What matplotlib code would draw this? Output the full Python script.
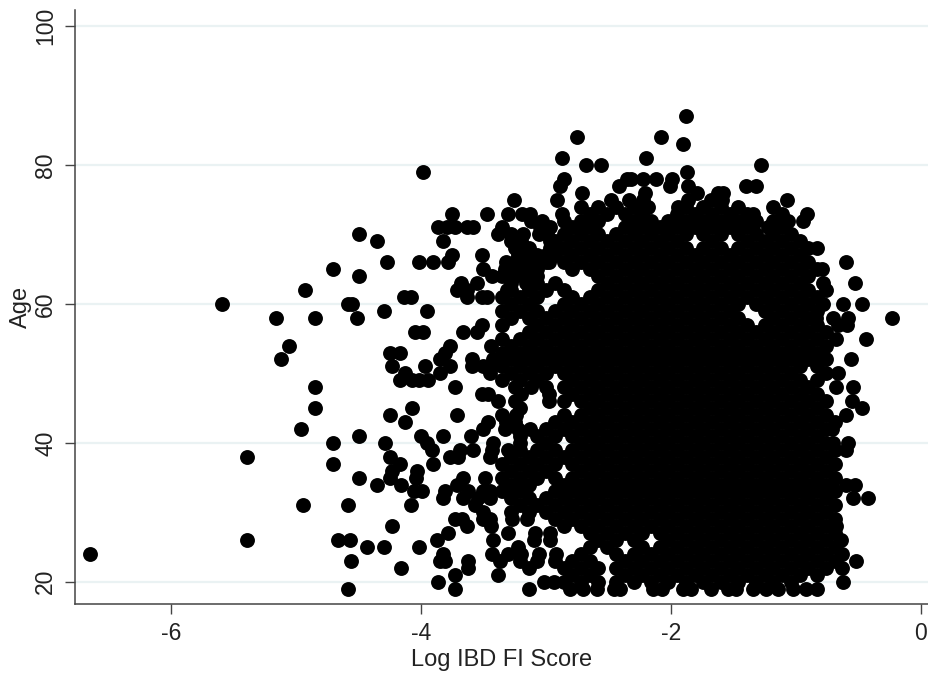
import matplotlib
matplotlib.use("Agg")
import matplotlib.pyplot as plt

age_87 = [-1.88]
age_84 = [-2.75, -2.08]
age_83 = [-1.90]
age_81 = [-2.87, -2.20]
age_80 = [-2.68, -2.56, -1.28]
age_79 = [-3.98, -1.87]
age_78 = [-2.86, -2.35, -2.32, -2.22, -2.12, -1.99]
age_77 = [-2.89, -2.42, -2.01, -1.86, -1.40, -1.32]
age_76 = [-2.71, -2.21, -1.79, -1.62, -1.58]
age_75 = [-3.26, -2.91, -2.48, -2.34, -2.22, -1.86, -1.68, -1.59, -1.07]
age_74 = [-2.72, -2.58, -2.44, -2.30, -2.18, -1.94, -1.88, -1.74, -1.60, -1.46, -1.18]
age_73 = [-3.75, -3.47, -3.30, -3.19, -3.13, -2.87, -2.65, -2.51, -2.37, -2.23, -1.95, -1.81, -1.67, -1.53, -1.39, -1.34, -1.11, -0.91]
age_72 = [-3.12, -3.03, -2.86, -2.72, -2.58, -2.30, -2.16, -2.02, -1.88, -1.74, -1.60, -1.46, -1.32, -1.18, -1.06, -0.94]
age_71 = [-3.86, -3.79, -3.73, -3.63, -3.58, -3.35, -3.05, -2.97, -2.79, -2.65, -2.37, -2.23, -2.09, -1.95, -1.81, -1.67, -1.53, -1.39, -1.22, -1.11]
age_70 = [-4.50, -3.38, -3.28, -3.18, -3.06, -2.99, -2.86, -2.72, -2.58, -2.44, -2.30, -2.16, -2.02, -1.88, -1.74, -1.60, -1.46, -1.32, -1.18, -1.04]
age_69 = [-4.35, -3.82, -3.28, -3.20, -2.97, -2.93, -2.79, -2.65, -2.51, -2.37, -2.23, -2.09, -1.95, -1.67, -1.39, -1.25, -1.11, -0.97]
age_68 = [-3.25, -3.20, -3.14, -2.97, -2.86, -2.72, -2.58, -2.44, -2.30, -2.16, -2.02, -1.88, -1.74, -1.60, -1.46, -1.32, -1.18, -1.04, -0.90, -0.83]
age_67 = [-3.75, -3.51, -3.22, -3.14, -3.07, -3.00, -2.93, -2.79, -2.65, -2.51, -2.37, -2.23, -2.09, -1.95, -1.81, -1.67, -1.53, -1.39, -1.25, -1.11, -0.97]
age_66 = [-4.27, -4.02, -3.90, -3.78, -3.32, -3.25, -3.18, -3.10, -3.00, -2.98, -2.86, -2.72, -2.58, -2.44, -2.30, -2.16, -2.02, -1.88, -1.74, -1.60, -1.46, -1.32, -1.18, -1.04, -0.90, -0.60]
age_65 = [-4.70, -3.50, -3.33, -3.25, -3.17, -3.10, -3.07, -2.79, -2.65, -2.51, -2.37, -2.23, -2.09, -1.95, -1.81, -1.67, -1.53, -1.39, -1.25, -1.11, -0.97, -0.83, -0.79]
age_64 = [-4.50, -3.43, -3.35, -3.25, -3.17, -3.07, -2.58, -2.44, -2.30, -2.16, -2.02, -1.88, -1.74, -1.60, -1.46, -1.32, -1.18, -1.04, -0.90]
age_63 = [-3.68, -3.55, -3.28, -3.16, -3.07, -2.93, -2.51, -2.37, -2.23, -2.09, -1.95, -1.81, -1.67, -1.53, -1.39, -1.25, -1.11, -0.97, -0.78, -0.53]
age_62 = [-4.93, -3.71, -3.63, -3.31, -3.28, -3.14, -3.00, -2.86, -2.58, -2.44, -2.30, -2.16, -2.02, -1.88, -1.74, -1.60, -1.46, -1.32, -1.18, -1.04, -0.90, -0.76]
age_61 = [-4.14, -4.08, -3.63, -3.51, -3.47, -3.35, -3.21, -3.07, -2.79, -2.65, -2.51, -2.37, -2.23, -2.09, -1.95, -1.81, -1.67, -1.53, -1.39, -1.25, -1.11, -0.97, -0.83]
age_60 = [-5.59, -4.58, -4.55, -3.28, -3.14, -2.86, -2.72, -2.58, -2.44, -2.30, -2.16, -2.02, -1.88, -1.74, -1.60, -1.46, -1.32, -1.18, -1.04, -0.90, -0.78, -0.62, -0.47]
age_59 = [-4.30, -3.95, -3.35, -3.21, -3.07, -2.93, -2.79, -2.65, -2.51, -2.37, -2.23, -2.09, -1.95, -1.81, -1.67, -1.53, -1.25, -1.11, -0.97, -0.83]
age_58 = [-5.16, -4.85, -4.51, -3.28, -3.14, -3.00, -2.86, -2.72, -2.58, -2.44, -2.30, -2.16, -2.02, -1.88, -1.74, -1.60, -1.46, -1.18, -1.04, -0.90, -0.84, -0.70, -0.58, -0.23]
age_57 = [-3.51, -3.35, -3.07, -2.93, -2.79, -2.65, -2.51, -2.37, -2.23, -2.09, -1.95, -1.81, -1.67, -1.53, -1.39, -1.25, -1.11, -0.97, -0.83, -0.66, -0.59]
age_56 = [-4.05, -3.98, -3.66, -3.55, -3.14, -3.00, -2.86, -2.72, -2.58, -2.44, -2.30, -2.16, -2.02, -1.88, -1.74, -1.60, -1.46, -1.32, -1.18, -1.04, -0.90, -0.76]
age_55 = [-3.35, -3.21, -3.07, -2.93, -2.79, -2.65, -2.51, -2.37, -2.23, -2.09, -1.95, -1.81, -1.67, -1.53, -1.39, -1.25, -1.11, -0.97, -0.83, -0.68, -0.44]
age_54 = [-5.06, -3.77, -3.44, -3.28, -3.14, -3.00, -2.86, -2.72, -2.58, -2.44, -2.30, -2.16, -2.02, -1.88, -1.74, -1.60, -1.46, -1.32, -1.18, -1.04, -0.90, -0.76]
age_53 = [-4.25, -4.17, -3.81, -3.35, -3.21, -3.07, -2.93, -2.79, -2.65, -2.51, -2.37, -2.23, -2.09, -1.95, -1.81, -1.67, -1.53, -1.39, -1.25, -1.11, -0.97, -0.83]
age_52 = [-5.12, -3.85, -3.59, -3.42, -3.28, -3.14, -3.00, -2.86, -2.72, -2.58, -2.44, -2.30, -2.16, -2.02, -1.88, -1.74, -1.60, -1.46, -1.32, -1.18, -1.04, -0.90, -0.76, -0.56]
age_51 = [-4.23, -3.97, -3.77, -3.59, -3.50, -3.43, -3.35, -3.21, -3.07, -2.93, -2.79, -2.65, -2.51, -2.37, -2.23, -2.09, -1.95, -1.81, -1.67, -1.53, -1.39, -1.25, -1.11, -0.97, -0.83]
age_50 = [-4.13, -3.85, -3.45, -3.28, -3.14, -3.00, -2.86, -2.72, -2.58, -2.44, -2.30, -2.16, -2.02, -1.88, -1.74, -1.60, -1.46, -1.32, -1.18, -1.04, -0.76, -0.66]
age_49 = [-4.17, -4.07, -4.02, -3.94, -3.35, -3.21, -3.07, -2.79, -2.65, -2.51, -2.37, -2.23, -2.09, -1.95, -1.81, -1.67, -1.53, -1.39, -1.25, -1.11, -0.97, -0.83]
age_48 = [-4.85, -3.73, -3.25, -3.12, -3.00, -2.86, -2.72, -2.58, -2.44, -2.30, -2.16, -2.02, -1.88, -1.74, -1.60, -1.46, -1.32, -1.18, -1.04, -0.90, -0.68, -0.54]
age_47 = [-3.51, -3.46, -3.20, -2.98, -2.79, -2.65, -2.51, -2.37, -2.23, -2.09, -1.95, -1.81, -1.67, -1.53, -1.39, -1.25, -1.11, -0.97, -0.83]
age_46 = [-3.38, -3.25, -2.98, -2.86, -2.72, -2.58, -2.44, -2.30, -2.16, -2.02, -1.88, -1.74, -1.60, -1.46, -1.32, -1.18, -1.04, -0.90, -0.76, -0.55]
age_45 = [-4.85, -4.07, -3.21, -2.65, -2.51, -2.37, -2.23, -2.09, -1.95, -1.81, -1.67, -1.53, -1.39, -1.25, -1.11, -0.97, -0.83, -0.47]
age_44 = [-4.25, -3.71, -3.35, -3.24, -2.86, -2.72, -2.58, -2.44, -2.30, -2.16, -2.02, -1.88, -1.74, -1.60, -1.46, -1.32, -1.18, -1.04, -0.90, -0.76, -0.60]
age_43 = [-4.13, -3.46, -3.32, -3.25, -2.93, -2.79, -2.65, -2.51, -2.37, -2.23, -2.09, -1.95, -1.81, -1.67, -1.53, -1.39, -1.25, -1.11, -0.97, -0.83, -0.69]
age_42 = [-4.96, -3.50, -3.33, -3.22, -3.13, -3.00, -2.86, -2.72, -2.58, -2.44, -2.30, -2.16, -2.02, -1.88, -1.74, -1.60, -1.46, -1.32, -1.18, -1.04, -0.90, -0.76, -0.71]
age_41 = [-4.50, -4.00, -3.82, -3.60, -3.21, -3.07, -2.93, -2.79, -2.65, -2.51, -2.37, -2.23, -2.09, -1.95, -1.81, -1.67, -1.53, -1.39, -1.25, -1.11, -0.97, -0.83]
age_40 = [-4.70, -4.29, -3.95, -3.42, -3.21, -3.00, -2.72, -2.58, -2.44, -2.30, -2.16, -2.02, -1.88, -1.74, -1.60, -1.46, -1.32, -1.18, -1.04, -0.90, -0.76, -0.70, -0.58]
age_39 = [-3.91, -3.69, -3.58, -3.43, -3.30, -3.21, -3.07, -2.93, -2.79, -2.65, -2.51, -2.37, -2.23, -2.09, -1.95, -1.81, -1.67, -1.53, -1.39, -1.25, -1.11, -0.97, -0.83, -0.69, -0.60]
age_38 = [-5.39, -4.25, -3.77, -3.70, -3.45, -3.28, -3.14, -3.00, -2.86, -2.72, -2.58, -2.44, -2.30, -2.16, -2.02, -1.88, -1.74, -1.60, -1.46, -1.32, -1.18, -1.04, -0.90, -0.76]
age_37 = [-4.70, -4.17, -3.90, -3.35, -3.21, -3.07, -2.93, -2.79, -2.65, -2.51, -2.37, -2.23, -2.09, -1.95, -1.81, -1.67, -1.53, -1.39, -1.25, -1.11, -0.97, -0.83, -0.69]
age_36 = [-4.23, -4.03, -3.28, -3.14, -3.00, -2.72, -2.58, -2.44, -2.30, -2.16, -2.02, -1.88, -1.74, -1.60, -1.46, -1.32, -1.18, -1.04, -0.90, -0.76]
age_35 = [-4.50, -4.25, -4.04, -3.66, -3.49, -3.35, -3.21, -3.07, -2.93, -2.79, -2.65, -2.51, -2.37, -2.23, -2.09, -1.95, -1.81, -1.67, -1.53, -1.39, -1.25, -1.11, -0.97, -0.83, -0.69]
age_34 = [-4.35, -4.16, -3.71, -3.28, -3.14, -2.86, -2.72, -2.58, -2.44, -2.30, -2.16, -2.02, -1.88, -1.74, -1.60, -1.46, -1.32, -1.18, -1.04, -0.90, -0.76, -0.60, -0.53]
age_33 = [-4.06, -3.99, -3.81, -3.62, -3.50, -3.45, -3.35, -3.21, -2.93, -2.79, -2.65, -2.51, -2.37, -2.23, -2.09, -1.95, -1.81, -1.67, -1.53, -1.39, -1.25, -1.11, -0.97, -0.83, -0.69]
age_32 = [-3.82, -3.66, -3.54, -3.45, -3.28, -3.14, -3.00, -2.86, -2.72, -2.58, -2.44, -2.30, -2.16, -2.02, -1.88, -1.74, -1.60, -1.46, -1.32, -1.18, -1.04, -0.90, -0.76, -0.54, -0.42]
age_31 = [-4.94, -4.58, -4.08, -3.57, -3.21, -3.07, -2.93, -2.79, -2.65, -2.51, -2.37, -2.23, -2.09, -1.95, -1.81, -1.67, -1.53, -1.39, -1.25, -1.11, -0.97, -0.83, -0.69]
age_30 = [-3.50, -3.28, -3.14, -3.00, -2.86, -2.72, -2.58, -2.44, -2.30, -2.16, -2.02, -1.88, -1.74, -1.60, -1.46, -1.32, -1.18, -1.04, -0.90, -0.76]
age_29 = [-3.73, -3.67, -3.50, -3.45, -3.27, -3.15, -2.93, -2.79, -2.65, -2.51, -2.37, -2.23, -2.09, -1.95, -1.81, -1.67, -1.53, -1.39, -1.25, -1.11, -0.97, -0.83, -0.69]
age_28 = [-4.23, -3.63, -3.44, -2.86, -2.72, -2.58, -2.44, -2.30, -2.16, -2.02, -1.88, -1.74, -1.60, -1.46, -1.32, -1.18, -1.04, -0.90, -0.76, -0.68]
age_27 = [-3.78, -3.30, -3.09, -2.97, -2.65, -2.51, -2.37, -2.23, -2.09, -1.95, -1.81, -1.67, -1.53, -1.39, -1.25, -1.11, -0.97, -0.83, -0.69]
age_26 = [-5.39, -4.66, -4.57, -3.87, -3.42, -3.10, -2.97, -2.58, -2.44, -2.30, -2.02, -1.88, -1.74, -1.60, -1.46, -1.32, -1.18, -1.04, -0.90, -0.76, -0.64]
age_25 = [-4.43, -4.30, -4.02, -3.22, -2.65, -2.51, -2.23, -2.09, -1.95, -1.81, -1.67, -1.53, -1.39, -1.25, -1.11, -0.97, -0.83, -0.69]
age_24 = [-6.65, -3.82, -3.43, -3.30, -3.20, -3.06, -2.92, -2.72, -2.44, -2.30, -2.16, -2.02, -1.88, -1.74, -1.60, -1.46, -1.32, -1.18, -1.04, -0.90, -0.76, -0.63]
age_23 = [-4.56, -3.85, -3.81, -3.62, -3.37, -3.21, -3.07, -2.93, -2.79, -2.65, -2.37, -2.23, -2.09, -1.95, -1.81, -1.67, -1.53, -1.39, -1.25, -1.11, -0.97, -0.83, -0.69, -0.52]
age_22 = [-4.16, -3.62, -3.14, -2.86, -2.72, -2.58, -2.44, -2.30, -2.16, -2.02, -1.88, -1.74, -1.60, -1.46, -1.32, -1.18, -1.04, -0.90, -0.76, -0.63]
age_21 = [-3.73, -3.38, -2.79, -2.65, -2.37, -2.23, -2.09, -1.95, -1.81, -1.67, -1.53, -1.39, -1.25, -1.11, -0.97, -0.83]
age_20 = [-3.86, -3.02, -2.94, -2.86, -2.72, -2.58, -2.44, -2.30, -2.16, -2.02, -1.88, -1.74, -1.60, -1.46, -1.32, -1.18, -1.04, -0.62]
age_19 = [-4.58, -3.73, -3.14, -2.81, -2.70, -2.59, -2.46, -2.41, -2.14, -2.07, -1.90, -1.84, -1.68, -1.54, -1.48, -1.34, -1.24, -1.14, -1.02, -0.92, -0.83]

rows = {int(name[4:]): vals for name, vals in list(globals().items()) if name.startswith("age_")}
x_ticks = [-6, -4, -2, 0]
y_ticks = [20, 40, 60, 80, 100]
x_label = "Log IBD FI Score"
y_label = "Age"

plt.rcParams["font.family"] = ["Liberation Sans", "DejaVu Sans"]
fig = plt.figure(figsize=(9.29, 6.74), dpi=100)
ax = fig.add_axes([75 / 929, 70 / 674, 854 / 929, 594 / 674])
ax.set_xlim(-6.768, 0.064)
ax.set_ylim(16.8, 102.3)

xs, ys = [], []
for age, vals in rows.items():
    xs.extend(vals)
    ys.extend([age] * len(vals))
ax.scatter(xs, ys, s=115, c="black", linewidths=0, zorder=3, clip_on=False)

ax.set_xticks(x_ticks)
ax.set_yticks(y_ticks)
ax.set_xticklabels(["-6", "-4", "-2", "0"])
ax.yaxis.grid(True, color="#eaf2f3", linewidth=1.6)
ax.xaxis.grid(False)
ax.set_axisbelow(True)
for s in ["top", "right"]:
    ax.spines[s].set_visible(False)
for s in ["left", "bottom"]:
    ax.spines[s].set_color("#444444")
    ax.spines[s].set_linewidth(1.1)
ax.tick_params(axis="both", direction="out", length=7.2, width=1.0, color="#444444", labelsize=16.5, labelcolor="#222222", pad=5.5)
for t in ax.get_yticklabels():
    t.set_rotation(90)
    t.set_va("center")
ax.set_xlabel(x_label, fontsize=17, color="#222222", labelpad=3)
ax.set_ylabel(y_label, fontsize=17, color="#222222", labelpad=2)
fig.savefig("out.png", dpi=100)
